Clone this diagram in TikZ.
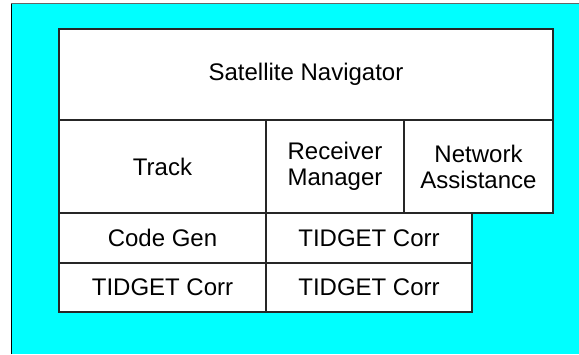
\documentclass[tikz,border=0pt]{standalone}
\usepackage{fontspec}
\setmainfont{Liberation Sans}

\definecolor{aqua}{RGB}{0,255,255}

\tikzset{
  block/.style={draw=black!85, fill=white, line width=1.1pt, inner sep=0pt,
    align=center, font=\fontsize{24}{26}\selectfont},
}

\begin{document}
\begin{tikzpicture}[x=1pt, y=-1pt]

    \useasboundingbox (0, 0) rectangle (579, 354);

    \fill[aqua] (11, 3) rectangle (579, 354);
    \draw[black!60, line width=1pt] (11, 354) -- (11, 3) -- (579, 3);
    \draw[black, line width=1pt] (11, 354) -- (11, 4);

    \node[block, minimum width=494, minimum height=91] (nav) at (306, 74.5)
    {Satellite Navigator};

    \node[block, minimum width=207, minimum height=93] (track) at (162.5, 166.5)
    {Track};
    \node[block, minimum width=138, minimum height=93] (rcvmgr) at (335, 166.5)
    {Receiver\\Manager};
    \node[block, minimum width=149, minimum height=93] (netasst) at (478.5, 166.5)
    {Network\\Assistance};

    \node[block, minimum width=207, minimum height=50] (codegen) at (162.5, 238)
    {Code Gen};
    \node[block, minimum width=206, minimum height=50] (corrA) at (369, 238)
    {TIDGET Corr};

    \node[block, minimum width=207, minimum height=49] (corrB) at (162.5, 287.5)
    {TIDGET Corr};
    \node[block, minimum width=206, minimum height=49] (corrC) at (369, 287.5)
    {TIDGET Corr};

  \end{tikzpicture}
\end{document}
